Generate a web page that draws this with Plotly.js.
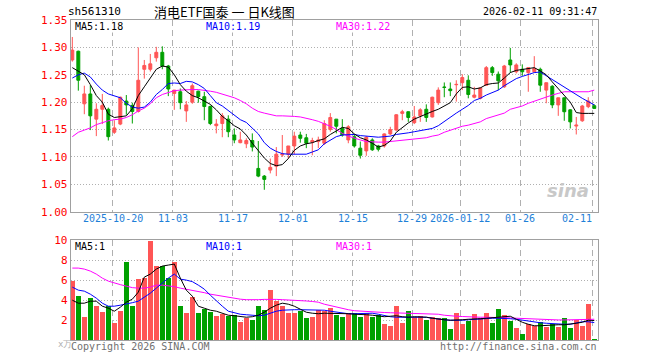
<!DOCTYPE html>
<html><head><meta charset="utf-8">
<script src="https://cdn.plot.ly/plotly-3.0.1.min.js"></script>
<style>html,body{margin:0;padding:0;background:#fff;overflow:hidden}#chart{width:660px;height:360px}</style>
</head><body><div id="chart"></div>
<script>
// ---- data ----
const openP  = [1.277,1.293,1.197,1.215,1.169,1.187,1.187,1.145,1.160,1.202,
                1.194,1.183,1.260,1.260,1.281,1.291,1.266,1.216,1.219,1.184,
                1.200,1.220,1.210,1.192,1.157,1.161,1.169,1.140,1.126,1.124,
                1.130,1.079,1.065,1.076,1.083,1.1035,1.105,1.120,1.140,1.135,
                1.127,1.128,1.125,1.150,1.169,1.152,1.131,1.137,1.116,1.111,
                1.131,1.120,1.120,1.142,1.149,1.1795,1.1825,1.1625,1.175,1.187,
                1.173,1.199,1.2276,1.224,1.2318,1.2355,1.240,1.209,1.207,1.231,
                1.263,1.251,1.228,1.277,1.2555,1.260,1.254,1.2555,1.260,1.222,
                1.229,1.195,1.208,1.186,1.1564,1.166,1.1917,1.1935];
const highP  = [1.319,1.294,1.230,1.231,1.198,1.215,1.190,1.167,1.210,1.213,
                1.199,1.300,1.277,1.288,1.301,1.302,1.268,1.222,1.225,1.202,
                1.234,1.221,1.219,1.194,1.169,1.180,1.176,1.152,1.146,1.134,
                1.143,1.129,1.067,1.097,1.118,1.140,1.120,1.146,1.146,1.142,
                1.135,1.137,1.167,1.180,1.169,1.169,1.158,1.142,1.128,1.138,
                1.134,1.122,1.143,1.155,1.178,1.186,1.183,1.193,1.189,1.196,
                1.210,1.227,1.236,1.236,1.240,1.251,1.249,1.228,1.227,1.266,
                1.266,1.256,1.268,1.299,1.271,1.269,1.263,1.284,1.263,1.2355,
                1.231,1.208,1.208,1.187,1.173,1.195,1.209,1.196];
const lowP   = [1.274,1.221,1.178,1.149,1.138,1.160,1.130,1.142,1.158,1.177,
                1.161,1.181,1.243,1.256,1.274,1.260,1.211,1.186,1.187,1.164,
                1.197,1.199,1.167,1.158,1.143,1.136,1.136,1.125,1.125,1.116,
                1.110,1.063,1.040,1.070,1.065,1.100,1.097,1.105,1.126,1.116,
                1.103,1.116,1.122,1.146,1.143,1.137,1.125,1.117,1.097,1.102,
                1.111,1.110,1.117,1.140,1.148,1.167,1.164,1.160,1.164,1.164,
                1.172,1.195,1.209,1.211,1.201,1.222,1.207,1.207,1.205,1.230,
                1.248,1.222,1.226,1.254,1.2525,1.248,1.219,1.254,1.219,1.198,
                1.189,1.175,1.166,1.152,1.141,1.164,1.189,1.1886];
const closeP = [1.295,1.240,1.215,1.175,1.187,1.194,1.137,1.153,1.209,1.195,
                1.183,1.240,1.267,1.270,1.291,1.266,1.224,1.222,1.199,1.195,
                1.230,1.210,1.192,1.161,1.160,1.175,1.146,1.131,1.131,1.130,
                1.118,1.065,1.059,1.081,1.105,1.105,1.120,1.138,1.134,1.125,
                1.130,1.131,1.161,1.172,1.156,1.140,1.155,1.120,1.103,1.136,
                1.113,1.114,1.142,1.150,1.177,1.1825,1.172,1.173,1.186,1.172,
                1.209,1.222,1.227,1.221,1.2324,1.245,1.214,1.213,1.226,1.263,
                1.254,1.239,1.266,1.268,1.268,1.2555,1.263,1.2616,1.231,1.2355,
                1.195,1.208,1.1825,1.164,1.158,1.193,1.202,1.1886];
const ma5  = [1.263,1.257,1.250,1.232,1.212,1.200,1.178,1.172,1.174,1.175,
              1.188,1.212,1.228,1.245,1.260,1.266,1.264,1.250,1.232,1.220,
              1.212,1.208,1.202,1.196,1.186,1.174,1.166,1.157,1.151,1.140,
              1.125,1.111,1.098,1.088,1.084,1.086,1.097,1.112,1.120,1.124,
              1.126,1.130,1.133,1.141,1.148,1.154,1.152,1.142,1.135,1.131,
              1.125,1.118,1.121,1.129,1.145,1.154,1.162,1.169,1.174,1.179,
              1.183,1.187,1.193,1.199,1.215,1.227,1.228,1.224,1.226,1.232,
              1.234,1.235,1.244,1.254,1.258,1.260,1.262,1.263,1.257,1.250,
              1.237,1.225,1.213,1.200,1.181,1.1795,1.1795,1.1795];
const ma10 = [1.244,1.250,1.253,1.246,1.233,1.222,1.215,1.211,1.208,1.198,
              1.191,1.189,1.191,1.200,1.214,1.223,1.234,1.235,1.234,1.238,
              1.237,1.232,1.225,1.212,1.199,1.193,1.185,1.176,1.168,1.163,
              1.152,1.142,1.126,1.116,1.110,1.106,1.105,1.105,1.105,1.105,
              1.109,1.113,1.124,1.131,1.137,1.140,1.141,1.141,1.139,1.138,
              1.137,1.136,1.137,1.138,1.141,1.142,1.144,1.146,1.148,1.150,
              1.152,1.157,1.165,1.172,1.180,1.187,1.194,1.203,1.207,1.213,
              1.217,1.222,1.230,1.236,1.243,1.247,1.250,1.254,1.255,1.248,
              1.242,1.235,1.228,1.221,1.213,1.207,1.201,1.195];
const ma30 = [1.137,1.145,1.149,1.153,1.159,1.163,1.166,1.168,1.169,1.172,
              1.177,1.184,1.189,1.197,1.208,1.214,1.218,1.221,1.222,1.223,
              1.223,1.223,1.222,1.220,1.218,1.215,1.212,1.208,1.203,1.197,
              1.189,1.183,1.180,1.177,1.175,1.175,1.175,1.174,1.173,1.171,
              1.168,1.165,1.161,1.156,1.150,1.143,1.138,1.134,1.131,1.128,
              1.127,1.127,1.127,1.128,1.129,1.130,1.131,1.132,1.133,1.135,
              1.138,1.140,1.145,1.149,1.153,1.156,1.158,1.161,1.164,1.170,
              1.173,1.176,1.180,1.187,1.190,1.193,1.198,1.202,1.206,1.209,
              1.213,1.216,1.219,1.219,1.219,1.219,1.219,1.222];
const volume = [5.93,4.43,2.33,4.23,3.43,2.83,3.43,1.73,2.93,7.83,
                3.43,6.13,6.23,9.93,7.43,7.43,6.23,7.83,3.43,2.73,
                4.33,2.73,3.13,2.83,2.43,2.63,2.43,2.53,1.83,2.23,
                2.03,3.43,3.03,5.03,3.93,3.43,2.73,2.73,2.93,2.23,
                2.33,3.03,2.93,3.2,2.53,2.33,2.7,2.7,2.33,2.7,
                2.33,2.53,1.63,1.43,3.43,1.73,2.93,2.33,2.43,2.03,
                2.33,2.23,2.23,1.13,2.73,1.63,1.93,2.63,2.23,2.73,
                1.73,3.13,2.53,1.93,1.23,0.63,1.63,1.43,1.83,1.33,
                1.63,1.33,2.23,1.23,2.03,1.43,3.63,0.13];
const vma5  = [4.0,3.7,3.7,3.9,3.9,3.4,3.2,2.9,3.3,3.8,
               4.1,4.8,6.3,6.6,7.1,7.4,7.5,7.6,6.2,5.0,
               4.4,3.4,3.2,3.0,2.9,2.7,2.5,2.45,2.4,2.3,
               2.35,2.5,2.8,3.2,3.5,3.7,3.6,3.4,3.1,2.8,
               2.7,2.65,2.7,2.7,2.7,2.7,2.65,2.6,2.6,2.55,
               2.5,2.45,2.35,2.4,2.45,2.35,2.3,2.35,2.35,2.3,
               2.2,2.1,2.05,2.0,2.0,2.05,2.1,2.1,2.15,2.2,
               2.25,2.3,2.35,2.4,2.1,1.8,1.6,1.45,1.45,1.5,
               1.55,1.55,1.55,1.6,1.7,1.8,2.0,1.97];
const vma10 = [5.3,5.0,4.9,4.6,4.2,3.7,3.4,3.4,3.5,3.6,
               3.75,3.9,4.3,4.7,5.2,5.7,6.2,6.6,6.1,6.0,
               5.85,5.5,5.1,4.5,3.9,3.4,2.9,2.75,2.6,2.55,
               2.5,2.45,2.5,2.7,2.9,3.0,3.05,3.05,3.05,3.05,
               3.05,3.05,3.0,2.9,2.8,2.7,2.65,2.65,2.65,2.7,
               2.7,2.6,2.45,2.35,2.3,2.3,2.3,2.3,2.3,2.3,
               2.2,2.1,2.05,2.0,1.97,2.0,2.05,2.1,2.15,2.2,
               2.2,2.2,2.2,2.15,2.1,2.0,1.9,1.8,1.75,1.7,
               1.65,1.6,1.6,1.6,1.7,1.85,1.85,1.77];
const vma30 = [7.2,7.2,7.1,6.9,6.6,6.2,5.9,5.7,5.55,5.4,
               5.25,5.2,5.2,5.3,5.5,5.5,5.45,5.35,5.2,5.1,
               5.0,4.9,4.75,4.6,4.5,4.4,4.25,4.15,4.1,4.05,
               4.03,4.05,4.08,4.1,4.08,4.05,4.03,4.0,3.97,3.92,
               3.87,3.8,3.6,3.45,3.3,3.15,3.05,2.95,2.9,2.85,
               2.8,2.78,2.77,2.75,2.73,2.72,2.7,2.68,2.67,2.65,
               2.63,2.6,2.5,2.43,2.4,2.37,2.33,2.3,2.3,2.3,
               2.3,2.3,2.27,2.23,2.2,2.17,2.13,2.1,2.07,2.05,
               2.03,2.03,2.03,2.03,2.03,2.05,2.08,2.1];
const tickIndex  = [7,17,27,37,47,57,65,75,87];
const tickLabels = ['2025-10-20','11-03','11-17','12-01','12-15','12-29','2026-01-12','01-26','02-11'];
const priceTicks = [1.00,1.05,1.10,1.15,1.20,1.25,1.30,1.35];
const volTicks   = [2,4,6,8,10];
const symbol = 'sh561310';
const chartTitle = '消电ETF国泰 一 日K线图';
const stamp = '2026-02-11 09:31:47';
const maPriceLabels = ['MA5:1.18','MA10:1.19','MA30:1.22'];
const maVolLabels = ['MA5:1','MA10:1','MA30:1'];

// ---- drawing ----
const W = 660, H = 360;
const RED = '#FF5555', GREEN = '#00A000';
const MONO = 'DejaVu Sans Mono, monospace';
const idx = closeP.map((_, i) => i);
const gridPos = tickIndex.map(i => i - 0.3);
const xr = [-0.27, 87.57];
const xd = [70.7 / W, 597.7 / W];
const yd1 = [1 - 211.7 / H, 1 - 20 / H];
const yd2 = [1 - 340.3 / H, 1 - 240 / H];

const volColors = closeP.map((c, i) => c >= openP[i] ? RED : GREEN);

const line = (x, y, col, xa, ya) => ({type: 'scatter', mode: 'lines', x: x, y: y,
  line: {color: col, width: 1}, xaxis: xa, yaxis: ya, hoverinfo: 'skip'});

const traces = [
  {type: 'candlestick', x: idx, open: openP, high: highP, low: lowP, close: closeP,
   increasing: {line: {color: RED, width: 1}, fillcolor: RED},
   decreasing: {line: {color: GREEN, width: 1}, fillcolor: GREEN},
   whiskerwidth: 0, hoverinfo: 'skip', xaxis: 'x', yaxis: 'y'},
  line(idx, ma30, '#FF00FF', 'x', 'y'),
  line(idx, ma10, '#0000FF', 'x', 'y'),
  line(idx, ma5, '#000000', 'x', 'y'),
  {type: 'bar', x: idx, y: volume, marker: {color: volColors, line: {width: 0}},
   width: 0.8, xaxis: 'x2', yaxis: 'y2', hoverinfo: 'skip'},
  line(idx, vma30, '#FF00FF', 'x2', 'y2'),
  line(idx, vma10, '#0000FF', 'x2', 'y2'),
  line(idx, vma5, '#000000', 'x2', 'y2')
];

const xBase = {range: xr, domain: xd, tickvals: gridPos, showticklabels: false, ticks: '',
  showgrid: true, gridcolor: '#B0B0B0', griddash: '6px,4px', gridwidth: 1,
  showline: true, mirror: true, linecolor: '#A0A0A0', linewidth: 1, zeroline: false,
  fixedrange: true, rangeslider: {visible: false}};
const yBase = {showgrid: true, gridcolor: '#B0B0B0', griddash: '1px,2px', gridwidth: 1,
  showline: true, mirror: true, linecolor: '#A0A0A0', linewidth: 1, zeroline: false,
  ticks: '', fixedrange: true, tickfont: {family: MONO, size: 11, color: '#FF0000'}};

const ann = [];
const txt = (x, y, text, col, size, anchor, font, bg) => ann.push({xref: 'paper', yref: 'paper',
  x: x / W, y: 1 - y / H, text: text, showarrow: false, xanchor: anchor || 'left', yanchor: 'middle',
  font: {family: font || MONO, size: size, color: col}, bgcolor: bg || 'rgba(0,0,0,0)', borderpad: 0});

txt(67, 12, symbol, '#000', 11);
txt(224, 11, chartTitle, '#000', 13, 'center', 'Noto Sans CJK SC');
txt(598, 12, stamp, '#000', 10, 'right');
const maCols = ['#000000', '#0000FF', '#FF00FF'];
const maX = [74, 205, 335];
maPriceLabels.forEach((t, k) => txt(maX[k], 27, t, maCols[k], 10, 'left', MONO, '#FFFFFF'));
maVolLabels.forEach((t, k) => txt(maX[k], 246, t, maCols[k], 10, 'left', MONO, '#FFFFFF'));
tickLabels.forEach((t, k) => {
  const last = k === tickLabels.length - 1;
  ann.push({xref: 'x', yref: 'paper', x: gridPos[k] + (last ? 0.3 : 0), y: 1 - 219 / H, text: t,
    showarrow: false, xanchor: last ? 'right' : 'center', yanchor: 'middle',
    font: {family: MONO, size: 10, color: '#1E80D8'}});
});
txt(70, 346, 'Copyright 2026 SINA.COM', '#707070', 10);
txt(598, 346, 'http://finance.sina.com.cn', '#707070', 10, 'right');
txt(57, 344, 'x万', '#B0B0B0', 9);
txt(568, 190, '<i><b>sina</b></i>', '#C8C8C8', 18, 'center', 'DejaVu Sans');

const layout = {
  width: W, height: H, margin: {l: 0, r: 0, t: 0, b: 0},
  paper_bgcolor: '#fff', plot_bgcolor: '#fff', showlegend: false, bargap: 0,
  xaxis: Object.assign({}, xBase, {anchor: 'y'}),
  yaxis: Object.assign({}, yBase, {domain: yd1, range: [1.0, 1.35], tickvals: priceTicks,
    ticktext: priceTicks.map(v => v.toFixed(2)), anchor: 'x'}),
  xaxis2: Object.assign({}, xBase, {anchor: 'y2'}),
  yaxis2: Object.assign({}, yBase, {domain: yd2, range: [0, 10], tickvals: volTicks,
    ticktext: volTicks.map(String), anchor: 'x2'}),
  annotations: ann
};

Plotly.newPlot('chart', traces, layout, {staticPlot: true, displayModeBar: false});
</script></body></html>
